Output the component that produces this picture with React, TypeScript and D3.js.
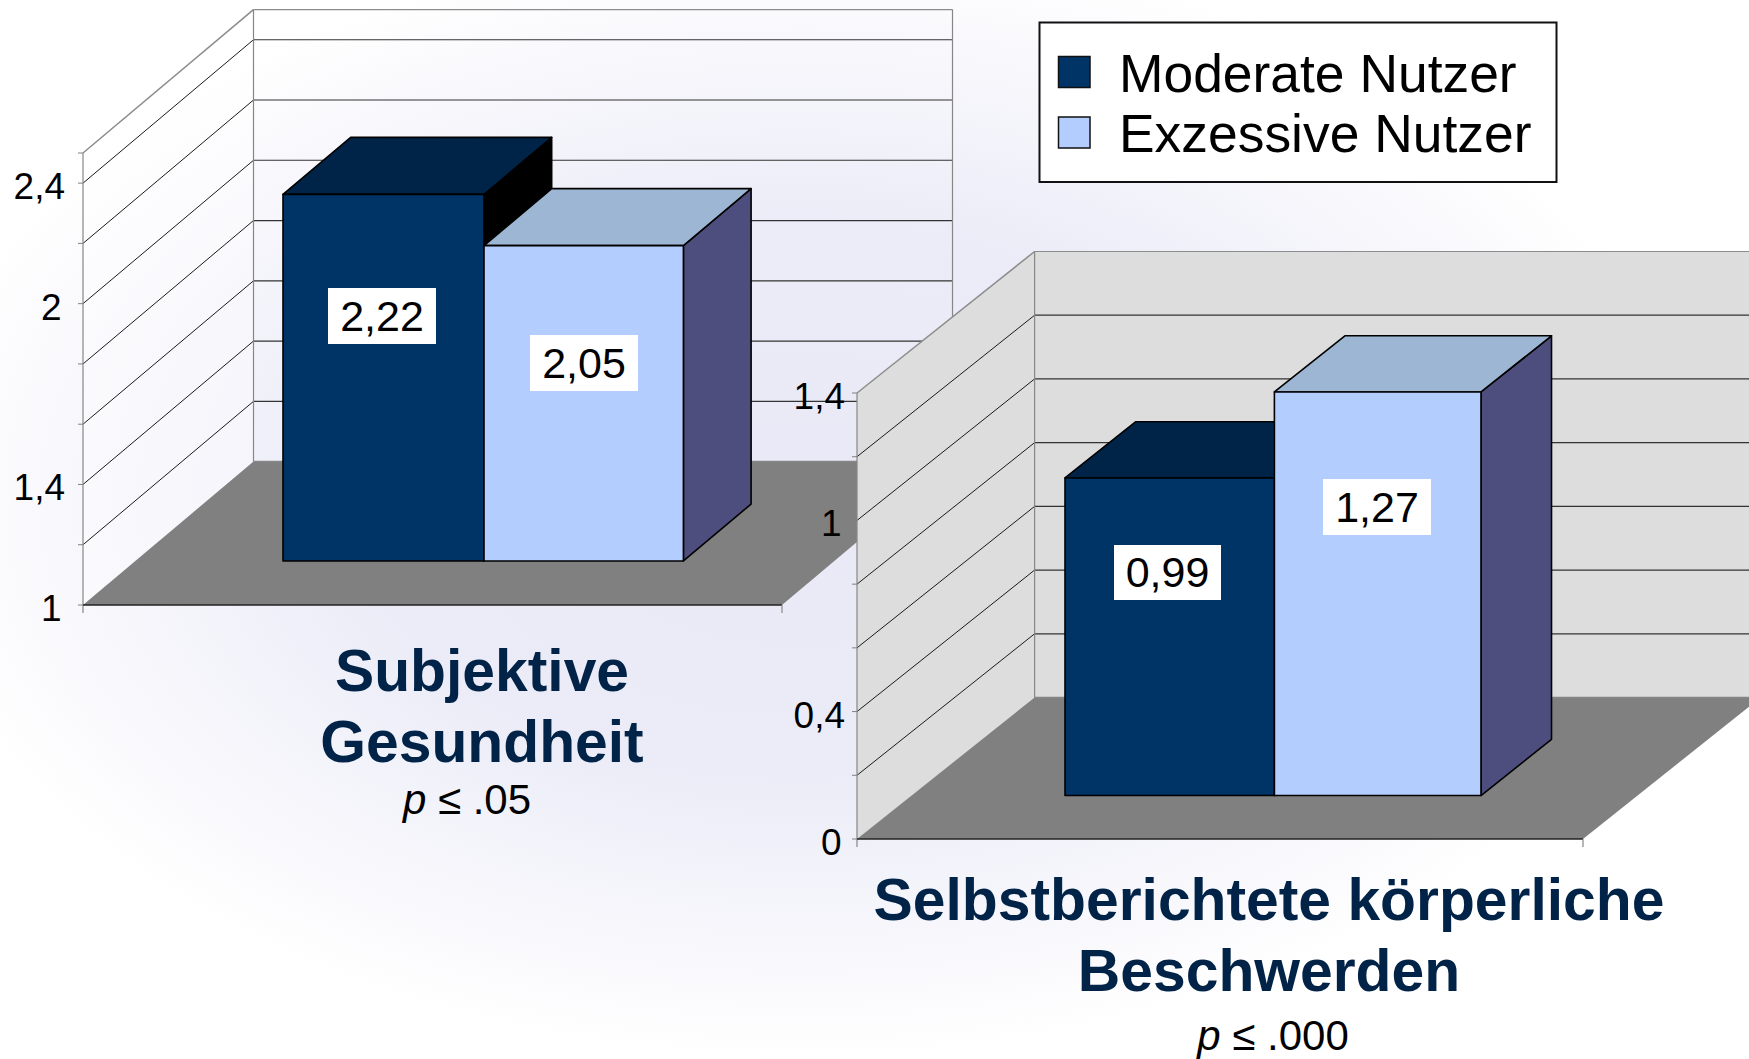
import React from "react";
import * as d3 from "d3";

const W = 1749, H = 1059;
const seriesNames = ["Moderate Nutzer", "Exzessive Nutzer"];
const barColors = ["#003366", "#B3CDFF"];
const topColors = ["#002447", "#9CB6D3"];
const sideColors = ["#000000", "#4E4E7E"];

const leftHeights = [2.22, 2.05];
const leftLabels = ["2,22", "2,05"];
const leftTicks = [1, 1.2, 1.4, 1.6, 1.8, 2, 2.2, 2.4, 2.5];
const leftTickLabels: [number, string][] = [[1, "1"], [1.4, "1,4"], [2, "2"], [2.4, "2,4"]];

const rightHeights = [1.0, 1.27];
const rightLabels = ["0,99", "1,27"];
const rightTicks = [0, 0.2, 0.4, 0.6, 0.8, 1, 1.2, 1.4];
const rightTickLabels: [number, string][] = [[0, "0"], [0.4, "0,4"], [1, "1"], [1.4, "1,4"]];

const FONT = "'Liberation Sans', Arial, sans-serif";
const pts = (p: number[][]) => p.map((q) => q.join(",")).join(" ");

type ChartProps = {
  x0: number; x1: number; y0: number; y1: number; dx: number; dy: number;
  domain: [number, number]; ticks: number[]; tickLabels: [number, string][];
  heights: number[]; labels: string[]; barX: number[]; labelBoxes: number[][];
  wall?: string; tickGap: number;
};

function Chart3D({ x0, x1, y0, y1, dx, dy, domain, ticks, tickLabels, heights, labels, barX, labelBoxes, wall, tickGap }: ChartProps) {
  const yScale = d3.scaleLinear().domain(domain).range([y0, y1]);
  const zf = 0.3, zb = 0.697;
  const by = dy * zf;
  const ddx = dx * (zb - zf), ddy = dy * (zb - zf);
  const top = domain[1];
  const lineCol = "#868686";
  return (
    <g>
      {wall && <polygon points={pts([[x0 + dx, y1 - dy], [x1 + dx, y1 - dy], [x1 + dx, y0 - dy], [x0 + dx, y0 - dy]])} fill={wall} />}
      {wall && <polygon points={pts([[x0, y1], [x0 + dx, y1 - dy], [x0 + dx, y0 - dy], [x0, y0]])} fill={wall} />}
      {!wall && <polygon points={pts([[x0, y1], [x0 + dx, y1 - dy], [x0 + dx, y0 - dy], [x0, y0]])} fill="#ffffff" fillOpacity={0.35} />}
      <polygon points={pts([[x0, y0], [x1, y0], [x1 + dx, y0 - dy], [x0 + dx, y0 - dy]])} fill="#808080" />
      {ticks.map((t) => {
        const y = yScale(t);
        const isTop = t === top;
        const c = isTop ? "#8c8c8c" : t === domain[0] ? "#808080" : "#1a1a1a";
        const sw = isTop ? 1.5 : 1;
        return (
          <g key={t}>
            {t !== domain[0] && <line x1={x0} y1={y} x2={x0 + dx} y2={y - dy} stroke={c} strokeWidth={sw} />}
            {t !== domain[0] && <line x1={x0 + dx} y1={y - dy} x2={x1 + dx} y2={y - dy} stroke={isTop ? "#8c8c8c" : "#333"} strokeWidth={1.2} />}
            <line x1={x0 - 5} y1={y} x2={x0} y2={y} stroke="#808080" />
          </g>
        );
      })}
      <line x1={x0} y1={y1} x2={x0} y2={y0 + 8} stroke={lineCol} strokeWidth={1.2} />
      <line x1={x0 + dx} y1={y1 - dy} x2={x0 + dx} y2={y0 - dy} stroke={lineCol} strokeWidth={1.2} />
      <line x1={x1 + dx} y1={y1 - dy} x2={x1 + dx} y2={y0 - dy} stroke={lineCol} strokeWidth={1.2} />
      <line x1={x0} y1={y0} x2={x1} y2={y0} stroke="#222" strokeWidth={1.5} />
      <line x1={x1} y1={y0} x2={x1} y2={y0 + 8} stroke={lineCol} strokeWidth={1.2} />
      <line x1={x0 + dx} y1={y0 - dy} x2={x1 + dx} y2={y0 - dy} stroke={lineCol} strokeWidth={1.5} />
      {heights.map((v, i) => {
        const xa = barX[i], xb = barX[i + 1];
        const yb = y0 - by - 1;
        const yt = yScale(v) - by;
        const st = { stroke: "#000", strokeWidth: 1.6, strokeLinejoin: "round" as const };
        return (
          <g key={i}>
            <polygon points={pts([[xb, yb], [xb + ddx, yb - ddy], [xb + ddx, yt - ddy], [xb, yt]])} fill={sideColors[i]} {...st} />
            <polygon points={pts([[xa, yt], [xb, yt], [xb + ddx, yt - ddy], [xa + ddx, yt - ddy]])} fill={topColors[i]} {...st} />
            <rect x={xa} y={yt} width={xb - xa} height={yb - yt} fill={barColors[i]} {...st} />
          </g>
        );
      })}
      {labels.map((l, i) => {
        const b = labelBoxes[i];
        return (
          <g key={l}>
            <rect x={b[0]} y={b[1]} width={b[2] - b[0]} height={b[3] - b[1]} fill="#fff" />
            <text x={(b[0] + b[2]) / 2} y={b[3] - 13} textAnchor="middle" fontSize={43} fontFamily={FONT} fill="#000">{l}</text>
          </g>
        );
      })}
      {tickLabels.map(([t, s]) => (
        <text key={s} x={x0 - tickGap - (s.length === 1 ? 3.5 : 0)} y={yScale(t) + 16} textAnchor="end" fontSize={37} fontFamily={FONT} fill="#000">{s}</text>
      ))}
    </g>
  );
}

function Title({ x, lines, y, p, py, pval }: { x: number; lines: string[]; y: number[]; p: number; py: number; pval: string }) {
  return (
    <g fontFamily={FONT} textAnchor="middle">
      {lines.map((l, i) => (
        <text key={l} x={x} y={y[i]} fontSize={58.8} fontWeight="bold" fill="#002347">{l}</text>
      ))}
      <text x={p} y={py} fontSize={42} fill="#000"><tspan fontStyle="italic">p</tspan> ≤ {pval}</text>
    </g>
  );
}

export default function App() {
  return (
    <svg width={W} height={H} viewBox={`0 0 ${W} ${H}`} style={{ position: "absolute", left: 0, top: 0, display: "block" }}>
      <defs>
        <radialGradient id="bg" gradientUnits="userSpaceOnUse" cx={800} cy={500} r={1} gradientTransform="translate(800 500) scale(900 560) translate(-800 -500)">
          <stop offset="0" stopColor="#E9E9F7" />
          <stop offset="0.5" stopColor="#ECECF8" />
          <stop offset="1" stopColor="#FFFFFF" />
        </radialGradient>
      </defs>
      <rect width={W} height={H} fill="url(#bg)" />
      <Chart3D x0={83} x1={782} y0={605} y1={153} dx={170.5} dy={143.4} domain={[1, 2.5]} ticks={leftTicks}
        tickLabels={leftTickLabels} heights={leftHeights} labels={leftLabels} barX={[283, 484, 683.4]}
        labelBoxes={[[328, 288, 436, 344], [530, 335, 638, 391]]} tickGap={18} />
      <Chart3D x0={857} x1={1583} y0={839} y1={393} dx={177.6} dy={141.5} domain={[0, 1.4]} ticks={rightTicks}
        tickLabels={rightTickLabels} heights={rightHeights} labels={rightLabels} barX={[1065, 1274.4, 1481]}
        labelBoxes={[[1114, 545, 1221, 600], [1323, 479, 1431, 535]]} wall="#DDDDDD" tickGap={12} />
      <Title x={482} lines={["Subjektive", "Gesundheit"]} y={[691, 762]} p={467} py={814} pval=".05" />
      <Title x={1269} lines={["Selbstberichtete körperliche", "Beschwerden"]} y={[920, 991]} p={1273} py={1050} pval=".000" />
      <rect x={1039.5} y={22.5} width={517} height={159.5} fill="#fff" stroke="#111" strokeWidth={2} />
      {seriesNames.map((n, i) => (
        <g key={n}>
          <rect x={1058.5} y={56.5 + i * 60.5} width={31.5} height={31} fill={barColors[i]} stroke="#111" strokeWidth={1.5} />
          <text x={1119} y={91.5 + i * 60.5} fontSize={53.4} fontFamily={FONT} fill="#000">{n}</text>
        </g>
      ))}
    </svg>
  );
}
